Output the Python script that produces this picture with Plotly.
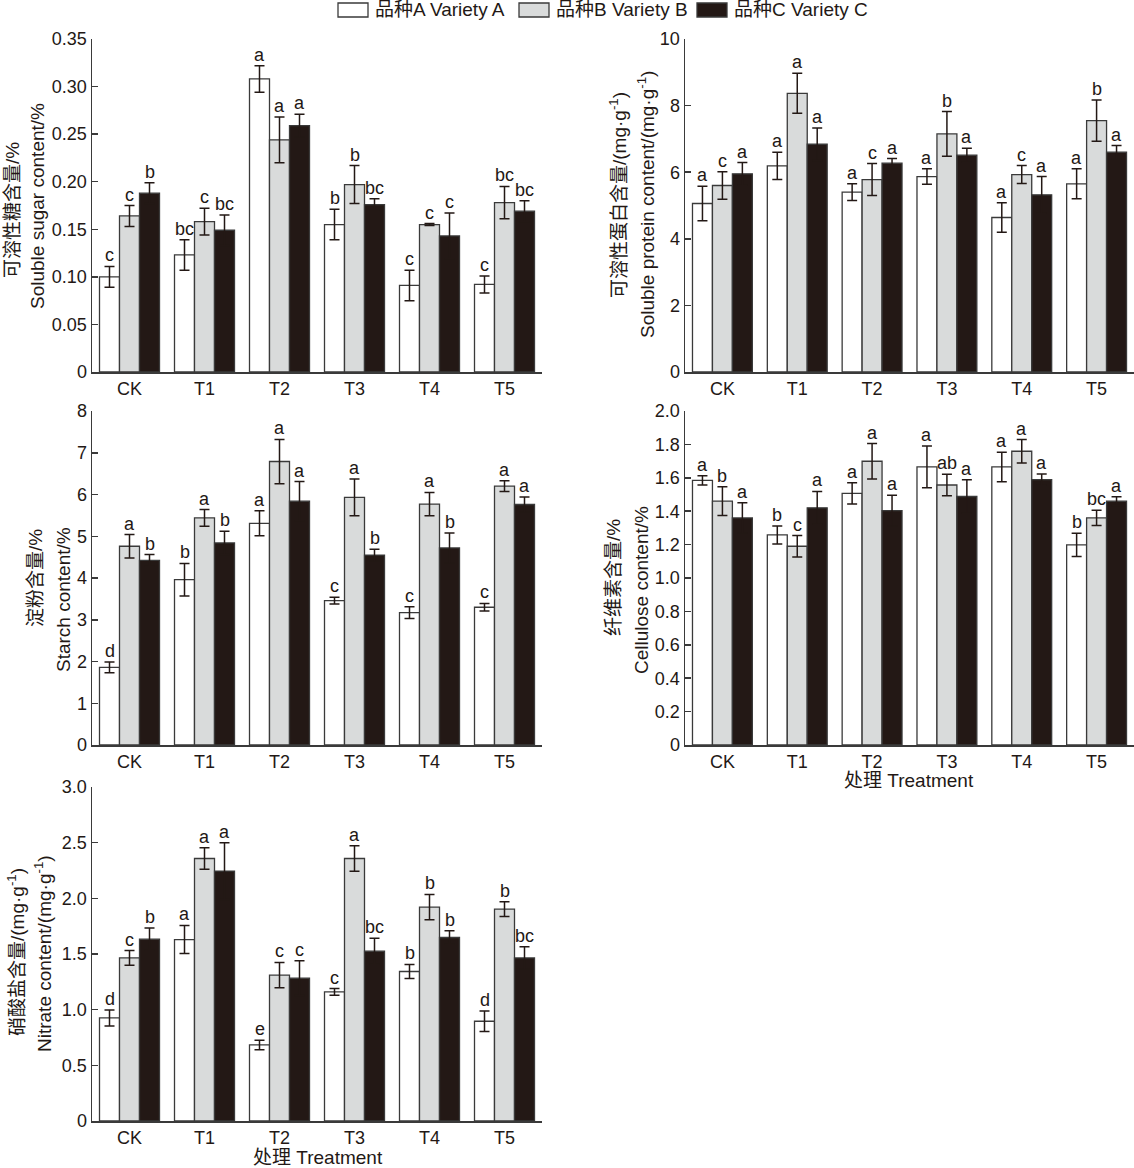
import plotly.graph_objects as go

W, H = 1134, 1168

categories = ["CK", "T1", "T2", "T3", "T4", "T5"]
variety_names = ["品种A Variety A", "品种B Variety B", "品种C Variety C"]
variety_colors = ["#ffffff", "#d9dbdb", "#231815"]

# Panel 1: soluble sugar (%)
sugar_A = [0.100, 0.123, 0.308, 0.155, 0.091, 0.092]
sugar_B = [0.164, 0.158, 0.244, 0.197, 0.155, 0.178]
sugar_C = [0.188, 0.149, 0.259, 0.176, 0.143, 0.169]
sugar_A_err = [0.011, 0.016, 0.014, 0.016, 0.016, 0.009]
sugar_B_err = [0.011, 0.014, 0.024, 0.020, 0.001, 0.017]
sugar_C_err = [0.011, 0.016, 0.012, 0.006, 0.024, 0.011]
sugar_A_sig = ["c", "bc", "a", "b", "c", "c"]
sugar_B_sig = ["c", "c", "a", "b", "c", "bc"]
sugar_C_sig = ["b", "bc", "a", "bc", "c", "bc"]

# Panel 2: soluble protein (mg/g)
protein_A = [5.06, 6.19, 5.40, 5.87, 4.64, 5.65]
protein_B = [5.60, 8.37, 5.78, 7.15, 5.93, 7.55]
protein_C = [5.95, 6.84, 6.27, 6.51, 5.32, 6.60]
protein_A_err = [0.52, 0.41, 0.25, 0.23, 0.44, 0.45]
protein_B_err = [0.41, 0.60, 0.48, 0.67, 0.27, 0.62]
protein_C_err = [0.34, 0.49, 0.14, 0.21, 0.55, 0.20]
protein_A_sig = ["a", "a", "a", "a", "a", "a"]
protein_B_sig = ["c", "a", "c", "b", "c", "b"]
protein_C_sig = ["a", "a", "a", "a", "a", "a"]

# Panel 3: starch (%)
starch_A = [1.86, 3.96, 5.31, 3.46, 3.17, 3.30]
starch_B = [4.76, 5.44, 6.79, 5.93, 5.77, 6.20]
starch_C = [4.42, 4.84, 5.84, 4.55, 4.72, 5.76]
starch_A_err = [0.13, 0.39, 0.30, 0.08, 0.14, 0.09]
starch_B_err = [0.28, 0.20, 0.53, 0.44, 0.28, 0.13]
starch_C_err = [0.14, 0.28, 0.47, 0.14, 0.36, 0.18]
starch_A_sig = ["d", "b", "a", "c", "c", "c"]
starch_B_sig = ["a", "a", "a", "a", "a", "a"]
starch_C_sig = ["b", "b", "a", "b", "b", "a"]

# Panel 4: cellulose (%)
cell_A = [1.585, 1.258, 1.507, 1.665, 1.665, 1.198]
cell_B = [1.460, 1.190, 1.699, 1.557, 1.759, 1.360]
cell_C = [1.360, 1.420, 1.404, 1.488, 1.589, 1.460]
cell_A_err = [0.028, 0.054, 0.064, 0.125, 0.088, 0.070]
cell_B_err = [0.086, 0.064, 0.106, 0.064, 0.070, 0.046]
cell_C_err = [0.090, 0.098, 0.092, 0.100, 0.034, 0.026]
cell_A_sig = ["a", "b", "a", "a", "a", "b"]
cell_B_sig = ["b", "c", "a", "ab", "a", "bc"]
cell_C_sig = ["a", "a", "a", "a", "a", "a"]

# Panel 5: nitrate (mg/g)
nitrate_A = [0.926, 1.630, 0.683, 1.160, 1.343, 0.896]
nitrate_B = [1.465, 2.358, 1.310, 2.358, 1.921, 1.903]
nitrate_C = [1.633, 2.245, 1.283, 1.525, 1.648, 1.465]
nitrate_A_err = [0.072, 0.126, 0.042, 0.030, 0.063, 0.093]
nitrate_B_err = [0.066, 0.096, 0.114, 0.114, 0.114, 0.066]
nitrate_C_err = [0.100, 0.255, 0.156, 0.117, 0.060, 0.099]
nitrate_A_sig = ["d", "a", "e", "c", "b", "d"]
nitrate_B_sig = ["c", "a", "c", "a", "b", "b"]
nitrate_C_sig = ["b", "a", "c", "bc", "b", "bc"]

sugar_ticks = [0, 0.05, 0.10, 0.15, 0.20, 0.25, 0.30, 0.35]
sugar_ticktext = ["0", "0.05", "0.10", "0.15", "0.20", "0.25", "0.30", "0.35"]
protein_ticks = [0, 2, 4, 6, 8, 10]
protein_ticktext = ["0", "2", "4", "6", "8", "10"]
starch_ticks = [0, 1, 2, 3, 4, 5, 6, 7, 8]
starch_ticktext = ["0", "1", "2", "3", "4", "5", "6", "7", "8"]
cell_ticks = [0, 0.2, 0.4, 0.6, 0.8, 1.0, 1.2, 1.4, 1.6, 1.8, 2.0]
cell_ticktext = ["0", "0.2", "0.4", "0.6", "0.8", "1.0", "1.2", "1.4", "1.6", "1.8", "2.0"]
nitrate_ticks = [0, 0.5, 1.0, 1.5, 2.0, 2.5, 3.0]
nitrate_ticktext = ["0", "0.5", "1.0", "1.5", "2.0", "2.5", "3.0"]

FONT = "Liberation Sans, Noto Sans CJK SC, sans-serif"
INK = "#231815"
AXC = "#3a3a3a"
FS = 18
FT = 19

panels = [
    dict(vals=[sugar_A, sugar_B, sugar_C], errs=[sugar_A_err, sugar_B_err, sugar_C_err],
         sigs=[sugar_A_sig, sugar_B_sig, sugar_C_sig], ticks=sugar_ticks, ticktext=sugar_ticktext,
         box=(92, 542, 39, 372),
         ytitle=[("可溶性糖含量/%", 12, 210), ("Soluble sugar content/%", 38, 206)], xtitle=None),
    dict(vals=[protein_A, protein_B, protein_C], errs=[protein_A_err, protein_B_err, protein_C_err],
         sigs=[protein_A_sig, protein_B_sig, protein_C_sig], ticks=protein_ticks, ticktext=protein_ticktext,
         box=(685, 1134, 39, 372),
         ytitle=[("可溶性蛋白含量/(mg·g<sup>-1</sup>)", 618, 195), ("Soluble protein content/(mg·g<sup>-1</sup>)", 646, 205)], xtitle=None),
    dict(vals=[starch_A, starch_B, starch_C], errs=[starch_A_err, starch_B_err, starch_C_err],
         sigs=[starch_A_sig, starch_B_sig, starch_C_sig], ticks=starch_ticks, ticktext=starch_ticktext,
         box=(92, 542, 411, 745),
         ytitle=[("淀粉含量/%", 36, 578), ("Starch content/%", 63, 600)], xtitle=None),
    dict(vals=[cell_A, cell_B, cell_C], errs=[cell_A_err, cell_B_err, cell_C_err],
         sigs=[cell_A_sig, cell_B_sig, cell_C_sig], ticks=cell_ticks, ticktext=cell_ticktext,
         box=(685, 1134, 411, 745),
         ytitle=[("纤维素含量/%", 614, 578), ("Cellulose content/%", 641, 590)], xtitle=(909, 780)),
    dict(vals=[nitrate_A, nitrate_B, nitrate_C], errs=[nitrate_A_err, nitrate_B_err, nitrate_C_err],
         sigs=[nitrate_A_sig, nitrate_B_sig, nitrate_C_sig], ticks=nitrate_ticks, ticktext=nitrate_ticktext,
         box=(92, 542, 787, 1121),
         ytitle=[("硝酸盐含量/(mg·g<sup>-1</sup>)", 16, 952), ("Nitrate content/(mg·g<sup>-1</sup>)", 43, 954)], xtitle=(318, 1157)),
]

fig = go.Figure()
annotations = []
shapes = []
layout = {}
bar_w = 0.8 / 3

for p_i, p in enumerate(panels):
    n = p_i + 1
    xa = "x" if n == 1 else f"x{n}"
    ya = "y" if n == 1 else f"y{n}"
    xkey = "xaxis" if n == 1 else f"xaxis{n}"
    ykey = "yaxis" if n == 1 else f"yaxis{n}"
    x0, x1, ytop, ybot = p["box"]
    for j in range(3):
        fig.add_trace(go.Bar(
            x=categories, y=p["vals"][j], name=variety_names[j],
            xaxis=xa, yaxis=ya, offsetgroup=str(j), showlegend=False,
            marker=dict(color=variety_colors[j], line=dict(color=AXC, width=1.3)),
            error_y=dict(type="data", array=p["errs"][j], visible=True,
                         color=INK, thickness=1.5, width=5),
        ))
        for i in range(len(categories)):
            annotations.append(dict(
                x=i + (j - 1) * bar_w, y=p["vals"][j][i] + p["errs"][j][i],
                xref=xa, yref=ya, text=p["sigs"][j][i], showarrow=False,
                xanchor="center", yanchor="bottom", yshift=-1,
                font=dict(family=FONT, size=FS, color=INK)))
    layout[xkey] = dict(
        domain=[x0 / W, x1 / W], anchor=ya, type="category", automargin=False,
        range=[-0.5, len(categories) - 0.5], showline=True, linecolor=AXC, linewidth=1.5,
        ticks="", showgrid=False, zeroline=False,
        tickfont=dict(family=FONT, size=FS, color=INK))
    layout[ykey] = dict(
        domain=[1 - ybot / H, 1 - ytop / H], anchor=xa, automargin=False,
        range=[0, p["ticks"][-1]], tickvals=p["ticks"], ticktext=p["ticktext"],
        showline=True, linecolor=AXC, linewidth=1.5, ticks="inside", ticklen=6,
        tickcolor=AXC, tickwidth=1.5, showgrid=False, zeroline=False,
        tickfont=dict(family=FONT, size=FS, color=INK))
    for txt, px, py in p["ytitle"]:
        annotations.append(dict(
            x=px / W, y=1 - py / H, xref="paper", yref="paper", text=txt,
            textangle=-90, showarrow=False, xanchor="center", yanchor="middle",
            font=dict(family=FONT, size=FT, color=INK)))
    if p["xtitle"]:
        px, py = p["xtitle"]
        annotations.append(dict(
            x=px / W, y=1 - py / H, xref="paper", yref="paper", text="处理 Treatment",
            showarrow=False, xanchor="center", yanchor="middle",
            font=dict(family=FONT, size=FT, color=INK)))

# Legend (custom key boxes)
legend_box_x = [338, 519, 697]
for j in range(3):
    bx = legend_box_x[j]
    shapes.append(dict(type="rect", xref="paper", yref="paper",
                       x0=bx / W, x1=(bx + 30) / W, y0=1 - 17 / H, y1=1 - 3 / H,
                       fillcolor=variety_colors[j], line=dict(color=AXC, width=1.3)))
    annotations.append(dict(
        x=(bx + 35) / W, y=1 - 10 / H, xref="paper", yref="paper", text=variety_names[j],
        showarrow=False, xanchor="left", yanchor="middle",
        font=dict(family=FONT, size=FT, color=INK)))

fig.update_layout(
    width=W, height=H, margin=dict(l=0, r=0, t=0, b=0, autoexpand=False),
    paper_bgcolor="white", plot_bgcolor="white",
    barmode="group", bargap=0.2, bargroupgap=0,
    showlegend=False, annotations=annotations, shapes=shapes,
    font=dict(family=FONT, size=FS, color=INK),
    **layout)

fig.write_html(
    "out.html",
    config={"displayModeBar": False, "staticPlot": True},
    post_script="document.body.style.margin='0';document.body.style.padding='0';"
                "document.body.style.overflow='hidden';"
                "document.documentElement.style.overflow='hidden';")
